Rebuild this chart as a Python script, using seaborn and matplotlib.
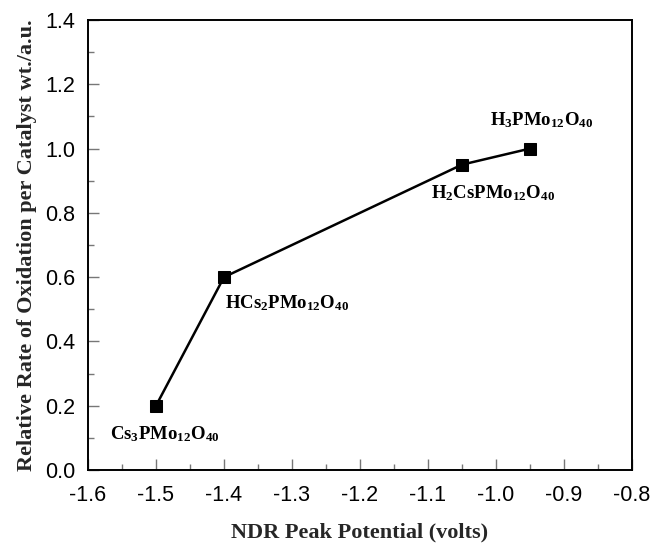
import matplotlib
matplotlib.use("Agg")
import matplotlib.pyplot as plt
import seaborn as sns
import pandas as pd
from matplotlib.ticker import MultipleLocator

potential = [-1.5, -1.4, -1.05, -0.95]
rate = [0.2, 0.6, 0.95, 1.0]
labels = [r"$\mathbf{Cs_3PMo_{12}O_{40}}$", r"$\mathbf{HCs_2PMo_{12}O_{40}}$",
          r"$\mathbf{H_2CsPMo_{12}O_{40}}$", r"$\mathbf{H_3PMo_{12}O_{40}}$"]

sns.set_style("white")
plt.rcParams['font.family'] = ['Liberation Sans', 'DejaVu Sans']
plt.rcParams['mathtext.fontset'] = 'custom'
plt.rcParams['mathtext.bf'] = 'Liberation Serif:bold'
plt.rcParams['mathtext.rm'] = 'Liberation Serif'

df = pd.DataFrame({"potential": potential, "rate": rate})

fig = plt.figure(figsize=(6.54, 5.43), dpi=100)
ax = fig.add_axes([88/654, 1 - 470/543, (632-88)/654, (470-20)/543])
sns.lineplot(data=df, x="potential", y="rate", ax=ax, color="black", lw=1.8,
             marker="s", markersize=9, markeredgecolor="black", sort=False)

# offsets in pixels (dx right, dy up)
offsets = [(9, -28, "center"), (1, -26, "left"),
           (31, -29, "center"), (12, 28, "center")]
for x, y, lab, (dx, dy, ha) in zip(potential, rate, labels, offsets):
    ax.annotate(lab, (x, y), xytext=(dx * 0.72, dy * 0.72), textcoords="offset points",
                ha=ha, va="center", fontsize=13.5, color="black")

ax.set_xlim(-1.6, -0.8)
ax.set_ylim(0, 1.4)
ax.xaxis.set_major_locator(MultipleLocator(0.1))
ax.xaxis.set_minor_locator(MultipleLocator(0.05))
ax.yaxis.set_major_locator(MultipleLocator(0.2))
ax.yaxis.set_minor_locator(MultipleLocator(0.1))
ax.xaxis.set_major_formatter(plt.FuncFormatter(lambda v, p: f"{v:.1f}"))
ax.yaxis.set_major_formatter(plt.FuncFormatter(lambda v, p: f"{v:.1f}"))
ax.tick_params(axis="x", which="major", pad=11)
ax.tick_params(axis="y", which="major", pad=9)
ax.tick_params(axis="both", which="major", direction="in", length=8, width=1,
               labelsize=15.5, color="#777777", labelcolor="black",
               top=False, right=False, bottom=True, left=True)
ax.tick_params(axis="both", which="minor", direction="in", length=4.5, width=1,
               color="#777777", top=False, right=False, bottom=True, left=True)
for s in ax.spines.values():
    s.set_color("black")
    s.set_linewidth(1.4)

ax.set_xlabel("NDR Peak Potential (volts)", family="Liberation Serif", fontweight="bold",
              fontsize=16)
ax.set_ylabel("Relative Rate of Oxidation per Catalyst wt./a.u.", family="Liberation Serif",
              fontweight="bold", fontsize=16)
ax.xaxis.set_label_coords(0.5, (470 - 522) / 450)
ax.yaxis.set_label_coords((37 - 88) / 544, 0.5)

fig.savefig("out.png", dpi=100)
